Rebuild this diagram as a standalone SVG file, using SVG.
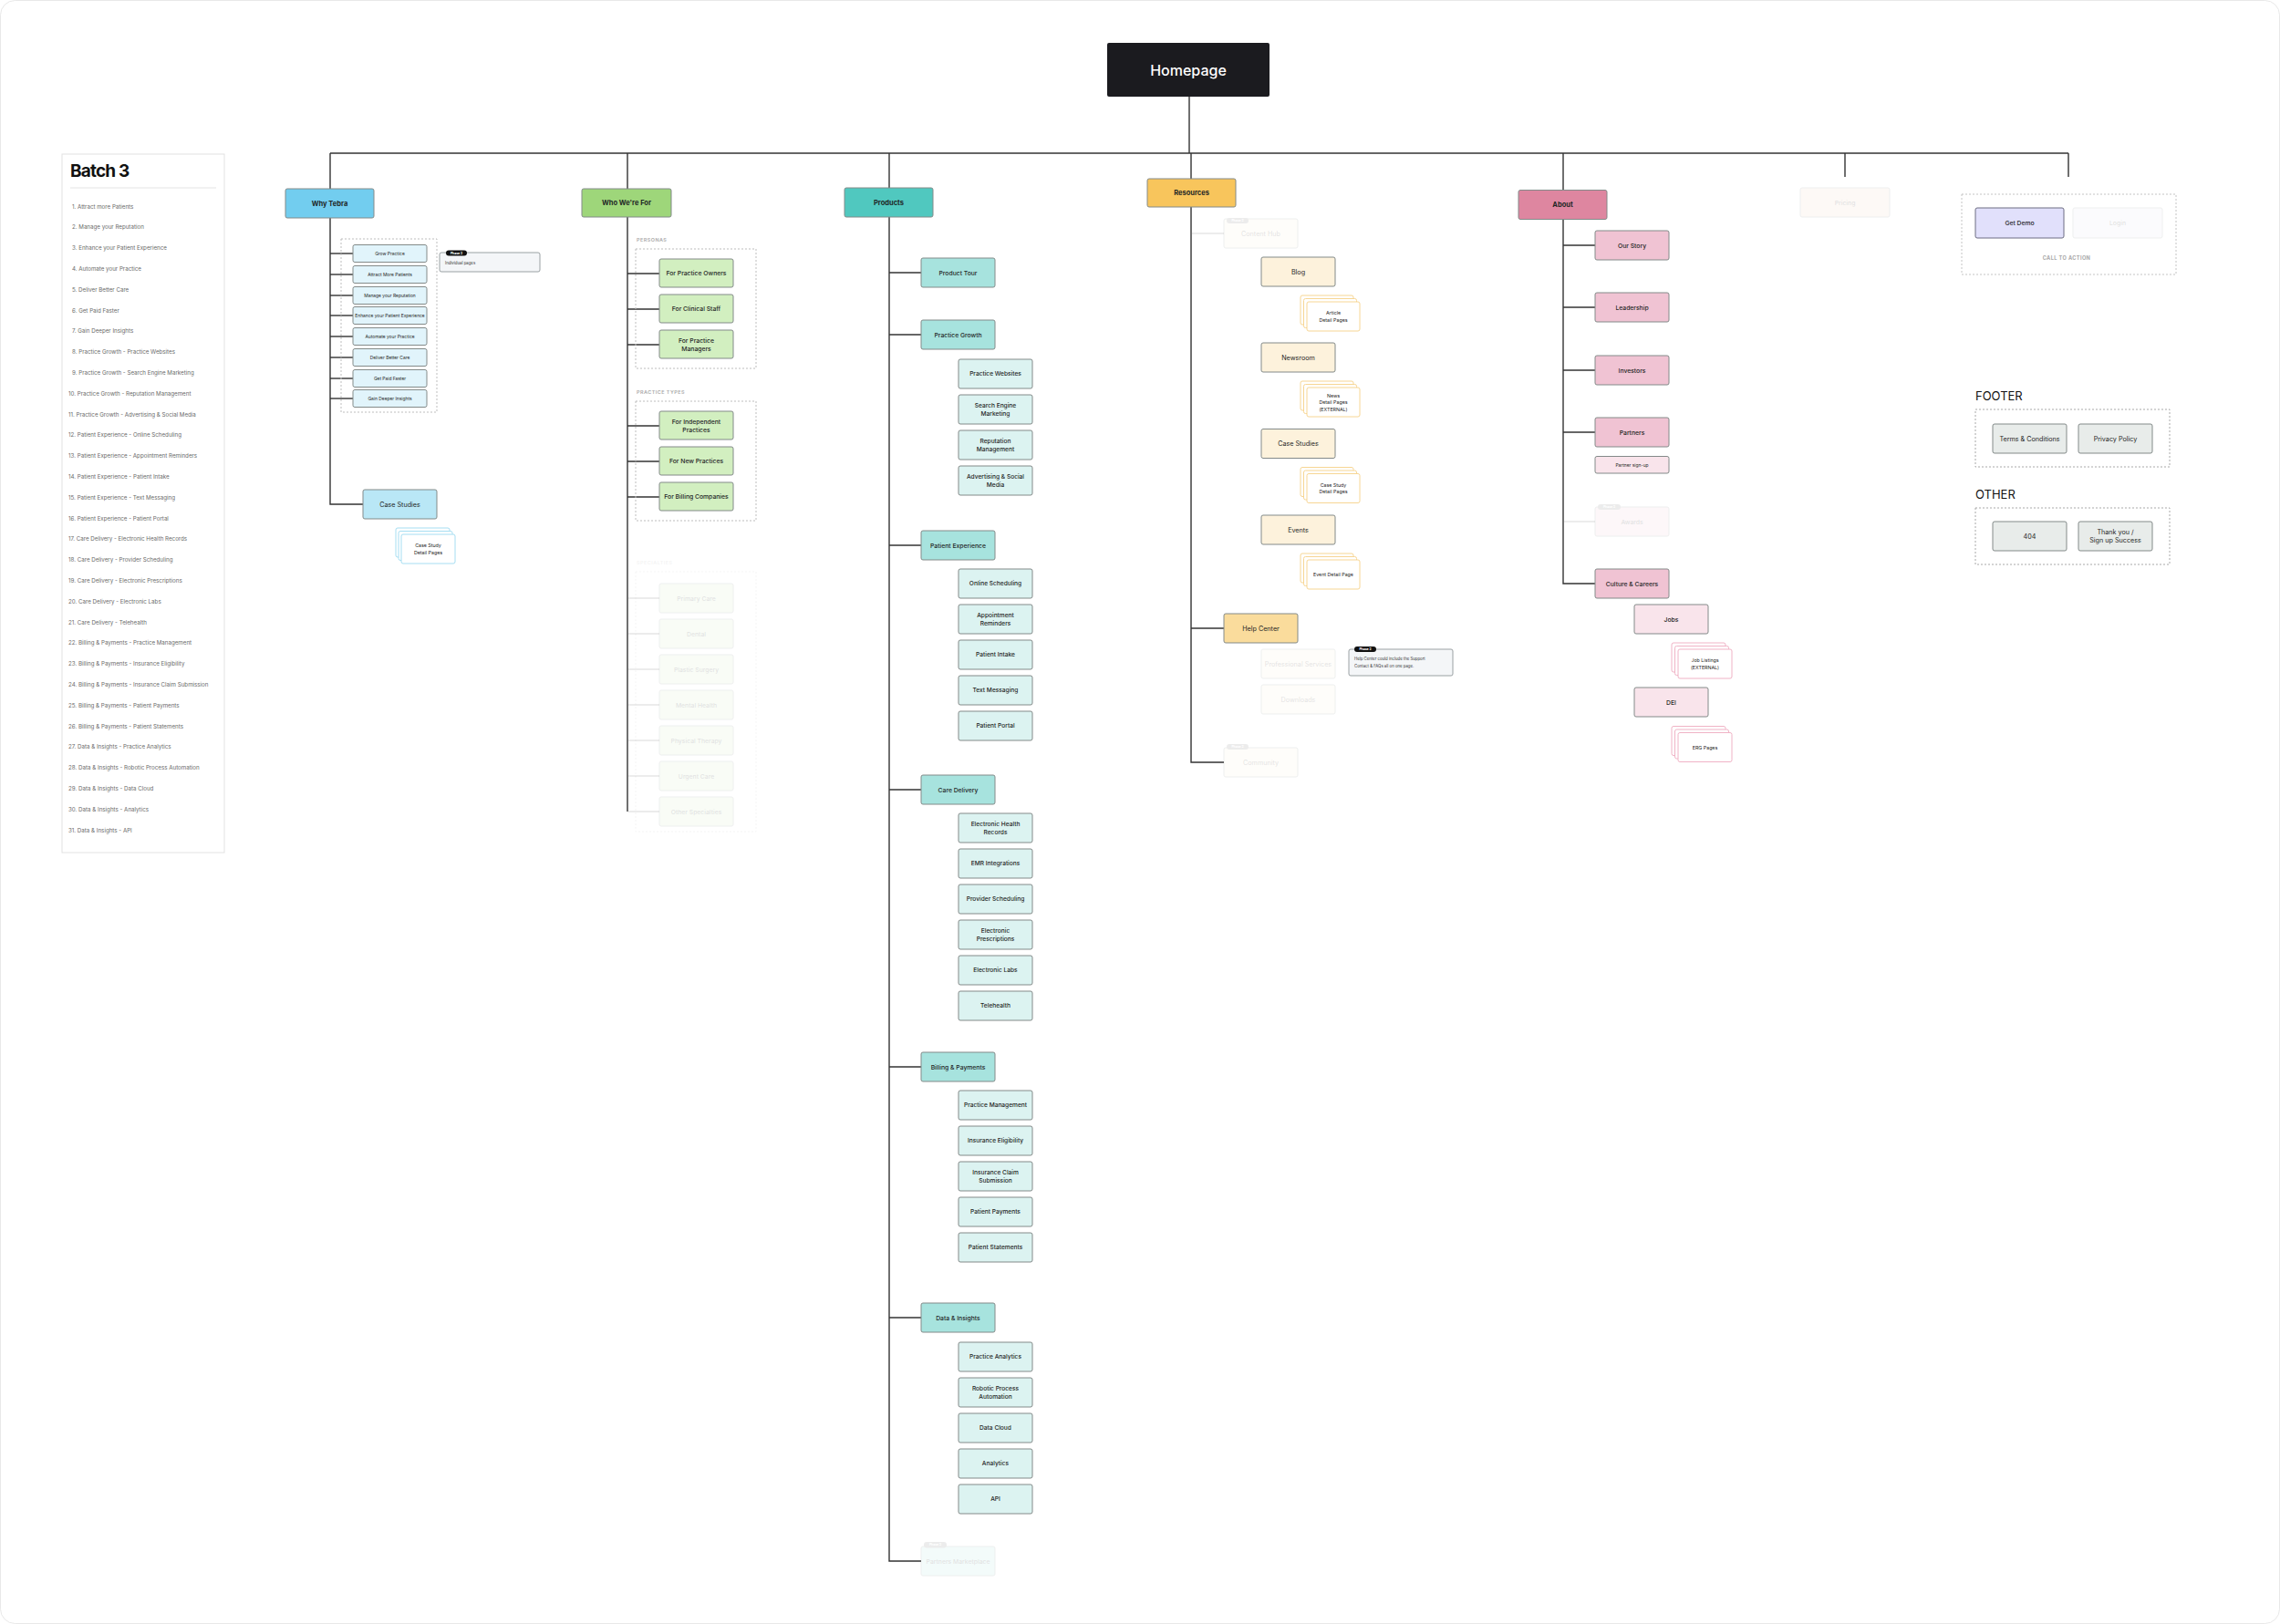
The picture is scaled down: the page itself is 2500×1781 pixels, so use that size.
<svg xmlns="http://www.w3.org/2000/svg" width="2500" height="1781" viewBox="0 0 2500 1781">
<style>
text{font-family:Inter,"Noto Sans","Liberation Sans",sans-serif;fill:#1f2626;text-anchor:middle;dominant-baseline:central}
.n rect{stroke:#838a89;stroke-width:1}
.top text{font-size:7.5px;font-weight:700}
.l2 text{font-size:6.8px;font-weight:500}
.l3 text{font-size:6.6px;font-weight:500}
.res text{font-size:7.2px;font-weight:400}
.wt text{font-size:4.9px;font-weight:400}
.stk rect{fill:#fff;stroke-width:1}
.stk text{font-size:5.3px;font-weight:400}
.fade{opacity:0.13}
.blue{fill:#72cdef}.blue2{fill:#b9e7f6}.blue3{fill:#e1f4fb}
.grn{fill:#9ed67a}.grn2{fill:#d2efc0}
.teal{fill:#50c8bf}.teal2{fill:#a7e3de}.teal3{fill:#dcf3f1}
.yel{fill:#f8c55c}.yel2{fill:#fdf2dc}.yel3{fill:#fadc9c}
.pink{fill:#de86a0}.pink2{fill:#f0c3d3}.pink3{fill:#f9e4eb}
.gry{fill:#e8ecea}
.sb rect{stroke:#a6def2}.so rect{stroke:#f7d694}.sp rect{stroke:#f0b3c6}
.dash{fill:none;stroke:#bdbdbd;stroke-width:1;stroke-dasharray:2 2}
.lbl{font-size:5.4px;font-weight:600;fill:#a9a9a9;text-anchor:start;letter-spacing:0.5px}
.con line,.con path{stroke:#333;stroke-width:1.4;fill:none}
.con .f{stroke:#e6e6e6}
.badge rect{fill:#111;stroke:none}
.badge text{font-size:3.4px;font-weight:700;fill:#fff}
.note rect.b{fill:#f4f6f8;stroke:#9aa1a3;stroke-width:1}
.note text.t{font-size:4.3px;fill:#333;text-anchor:start}
.bl text{font-size:6.2px;fill:#6a6a6a;text-anchor:start}
.sec{font-size:13px;font-weight:400;fill:#111;text-anchor:start}
</style>

<rect x="0.5" y="0.5" width="2499" height="1780" rx="16" fill="#fff" stroke="#e8e8e8"/>

<!-- Batch 3 panel -->
<g id="batch3" class="bl">
<rect x="68" y="169" width="178" height="766" fill="#fff" stroke="#e2e2e2"/>
<text x="77" y="187" style="font-size:19px;font-weight:700;fill:#111;letter-spacing:-0.8px">Batch 3</text>
<line x1="77" y1="206" x2="237" y2="206" stroke="#e4e4e4"/>
<text x="79" y="226">1. Attract more Patients</text>
<text x="79" y="248.8">2. Manage your Reputation</text>
<text x="79" y="271.6">3. Enhance your Patient Experience</text>
<text x="79" y="294.4">4. Automate your Practice</text>
<text x="79" y="317.2">5. Deliver Better Care</text>
<text x="79" y="340">6. Get Paid Faster</text>
<text x="79" y="362.8">7. Gain Deeper Insights</text>
<text x="79" y="385.6">8. Practice Growth - Practice Websites</text>
<text x="79" y="408.4">9. Practice Growth - Search Engine Marketing</text>
<text x="75" y="431.2">10. Practice Growth - Reputation Management</text>
<text x="75" y="454">11. Practice Growth - Advertising &amp; Social Media</text>
<text x="75" y="476.8">12. Patient Experience - Online Scheduling</text>
<text x="75" y="499.6">13. Patient Experience - Appointment Reminders</text>
<text x="75" y="522.4">14. Patient Experience - Patient Intake</text>
<text x="75" y="545.2">15. Patient Experience - Text Messaging</text>
<text x="75" y="568">16. Patient Experience - Patient Portal</text>
<text x="75" y="590.8">17. Care Delivery - Electronic Health Records</text>
<text x="75" y="613.6">18. Care Delivery - Provider Scheduling</text>
<text x="75" y="636.4">19. Care Delivery - Electronic Prescriptions</text>
<text x="75" y="659.2">20. Care Delivery - Electronic Labs</text>
<text x="75" y="682">21. Care Delivery - Telehealth</text>
<text x="75" y="704.8">22. Billing &amp; Payments - Practice Management</text>
<text x="75" y="727.6">23. Billing &amp; Payments - Insurance Eligibility</text>
<text x="75" y="750.4">24. Billing &amp; Payments - Insurance Claim Submission</text>
<text x="75" y="773.2">25. Billing &amp; Payments - Patient Payments</text>
<text x="75" y="796">26. Billing &amp; Payments - Patient Statements</text>
<text x="75" y="818.8">27. Data &amp; Insights - Practice Analytics</text>
<text x="75" y="841.6">28. Data &amp; Insights - Robotic Process Automation</text>
<text x="75" y="864.4">29. Data &amp; Insights - Data Cloud</text>
<text x="75" y="887.2">30. Data &amp; Insights - Analytics</text>
<text x="75" y="910">31. Data &amp; Insights - API</text>
</g>

<!-- Connectors -->
<g id="connectors" class="con">
<line x1="1304" y1="106" x2="1304" y2="168"/>
<line x1="362" y1="168" x2="2268" y2="168"/>
<line x1="362" y1="168" x2="362" y2="207"/>
<line x1="688" y1="168" x2="688" y2="207"/>
<line x1="975" y1="168" x2="975" y2="206"/>
<line x1="1306" y1="168" x2="1306" y2="196"/>
<line x1="1714" y1="168" x2="1714" y2="209"/>
<line x1="2023" y1="168" x2="2023" y2="194"/>
<line x1="2268" y1="168" x2="2268" y2="194"/>
<!-- why tebra -->
<path d="M362 239V553H398"/>
<line x1="362" y1="278" x2="387" y2="278"/>
<line x1="362" y1="301" x2="387" y2="301"/>
<line x1="362" y1="324" x2="387" y2="324"/>
<line x1="362" y1="346" x2="387" y2="346"/>
<line x1="362" y1="369" x2="387" y2="369"/>
<line x1="362" y1="392" x2="387" y2="392"/>
<line x1="362" y1="415" x2="387" y2="415"/>
<line x1="362" y1="437" x2="387" y2="437"/>
<!-- who we're for -->
<line x1="688" y1="238" x2="688" y2="890"/>
<line x1="688" y1="300" x2="723" y2="300"/>
<line x1="688" y1="339" x2="723" y2="339"/>
<line x1="688" y1="378" x2="723" y2="378"/>
<line x1="688" y1="467" x2="723" y2="467"/>
<line x1="688" y1="506" x2="723" y2="506"/>
<line x1="688" y1="545" x2="723" y2="545"/>
<line class="f" x1="689" y1="656" x2="723" y2="656"/>
<line class="f" x1="689" y1="695" x2="723" y2="695"/>
<line class="f" x1="689" y1="734" x2="723" y2="734"/>
<line class="f" x1="689" y1="773" x2="723" y2="773"/>
<line class="f" x1="689" y1="812" x2="723" y2="812"/>
<line class="f" x1="689" y1="851" x2="723" y2="851"/>
<line class="f" x1="689" y1="890" x2="723" y2="890"/>
<!-- products -->
<path d="M975 238V1712H1010"/>
<line x1="975" y1="299" x2="1010" y2="299"/>
<line x1="975" y1="367" x2="1010" y2="367"/>
<line x1="975" y1="598" x2="1010" y2="598"/>
<line x1="975" y1="866" x2="1010" y2="866"/>
<line x1="975" y1="1170" x2="1010" y2="1170"/>
<line x1="975" y1="1445" x2="1010" y2="1445"/>
<!-- resources -->
<path d="M1306 227V836H1342"/>
<line class="f" x1="1307" y1="256" x2="1342" y2="256"/>
<line x1="1306" y1="689" x2="1342" y2="689"/>
<!-- about -->
<path d="M1714 240V640H1749"/>
<line x1="1714" y1="269" x2="1749" y2="269"/>
<line x1="1714" y1="337" x2="1749" y2="337"/>
<line x1="1714" y1="406" x2="1749" y2="406"/>
<line x1="1714" y1="474" x2="1749" y2="474"/>
<line class="f" x1="1715" y1="572" x2="1749" y2="572"/>
</g>

<!-- Homepage -->
<g id="homepage">
<rect x="1214" y="47" width="178" height="59" rx="2" fill="#1b1b1f"/>
<text x="1303" y="77" style="font-size:16px;font-weight:500;fill:#fff">Homepage</text>
</g>

<!-- Why Tebra -->
<g id="why-tebra" class="n top"><rect class="blue" x="313" y="207" width="97" height="32" rx="2"/><text x="361.5" y="223">Why Tebra</text></g>
<rect class="dash" x="374" y="262" width="105" height="190"/>
<g id="wt-grow" class="n wt"><rect class="blue3" x="387" y="268.5" width="81" height="19" rx="2"/><text x="427.5" y="278">Grow Practice</text></g>
<g id="wt-attract" class="n wt"><rect class="blue3" x="387" y="291.5" width="81" height="19" rx="2"/><text x="427.5" y="301">Attract More Patients</text></g>
<g id="wt-manage" class="n wt"><rect class="blue3" x="387" y="314.5" width="81" height="19" rx="2"/><text x="427.5" y="324">Manage your Reputation</text></g>
<g id="wt-enhance" class="n wt"><rect class="blue3" x="387" y="336.5" width="81" height="19" rx="2"/><text x="427.5" y="346">Enhance your Patient Experience</text></g>
<g id="wt-automate" class="n wt"><rect class="blue3" x="387" y="359.5" width="81" height="19" rx="2"/><text x="427.5" y="369">Automate your Practice</text></g>
<g id="wt-deliver" class="n wt"><rect class="blue3" x="387" y="382.5" width="81" height="19" rx="2"/><text x="427.5" y="392">Deliver Better Care</text></g>
<g id="wt-paid" class="n wt"><rect class="blue3" x="387" y="405.5" width="81" height="19" rx="2"/><text x="427.5" y="415">Get Paid Faster</text></g>
<g id="wt-insights" class="n wt"><rect class="blue3" x="387" y="427.5" width="81" height="19" rx="2"/><text x="427.5" y="437">Gain Deeper Insights</text></g>
<g id="note-wt" class="note">
<rect class="b" x="482" y="277" width="110" height="21" rx="2"/>
<g class="badge"><rect x="489" y="274.5" width="23" height="6" rx="3"/><text x="500.5" y="277.5">Phase 2</text></g>
<text class="t" x="488" y="288">Individual pages</text>
</g>
<g id="wt-case-studies" class="n res"><rect class="blue2" x="398" y="537" width="81" height="32" rx="2"/><text x="438.5" y="553">Case Studies</text></g>
<g id="wt-case-detail" class="stk sb">
<rect x="434" y="579" width="59" height="32" rx="2"/><rect x="437" y="582.5" width="59" height="32" rx="2"/><rect x="440" y="586" width="59" height="32" rx="2"/>
<text x="469.5" y="598">Case Study</text><text x="469.5" y="606">Detail Pages</text>
</g>

<!-- Who We're For -->
<g id="who-were-for" class="n top"><rect class="grn" x="638" y="207" width="98" height="31" rx="2"/><text x="687" y="222.5">Who We're For</text></g>
<text class="lbl" x="698" y="263">PERSONAS</text>
<rect class="dash" x="697" y="273" width="132" height="131"/>
<g id="wf-owners" class="n l2"><rect class="grn2" x="723" y="284" width="81" height="31" rx="2"/><text x="763.5" y="299.5">For Practice Owners</text></g>
<g id="wf-clinical" class="n l2"><rect class="grn2" x="723" y="323" width="81" height="31" rx="2"/><text x="763.5" y="338.5">For Clinical Staff</text></g>
<g id="wf-managers" class="n l2"><rect class="grn2" x="723" y="362" width="81" height="31" rx="2"/><text x="763.5" y="373">For Practice</text><text x="763.5" y="382">Managers</text></g>
<text class="lbl" x="698" y="430">PRACTICE TYPES</text>
<rect class="dash" x="697" y="440" width="132" height="131"/>
<g id="wf-independent" class="n l2"><rect class="grn2" x="723" y="451" width="81" height="31" rx="2"/><text x="763.5" y="462">For Independent</text><text x="763.5" y="471">Practices</text></g>
<g id="wf-new" class="n l2"><rect class="grn2" x="723" y="490" width="81" height="31" rx="2"/><text x="763.5" y="505.5">For New Practices</text></g>
<g id="wf-billing" class="n l2"><rect class="grn2" x="723" y="529" width="81" height="31" rx="2"/><text x="763.5" y="544.5">For Billing Companies</text></g>
<g class="fade">
<text class="lbl" x="698" y="617">SPECIALTIES</text>
<rect class="dash" x="697" y="627" width="132" height="285"/>
<g id="wf-primary" class="n l2"><rect class="grn2" x="723" y="640" width="81" height="32" rx="2"/><text x="763.5" y="656">Primary Care</text></g>
<g id="wf-dental" class="n l2"><rect class="grn2" x="723" y="679" width="81" height="32" rx="2"/><text x="763.5" y="695">Dental</text></g>
<g id="wf-plastic" class="n l2"><rect class="grn2" x="723" y="718" width="81" height="32" rx="2"/><text x="763.5" y="734">Plastic Surgery</text></g>
<g id="wf-mental" class="n l2"><rect class="grn2" x="723" y="757" width="81" height="32" rx="2"/><text x="763.5" y="773">Mental Health</text></g>
<g id="wf-physical" class="n l2"><rect class="grn2" x="723" y="796" width="81" height="32" rx="2"/><text x="763.5" y="812">Physical Therapy</text></g>
<g id="wf-urgent" class="n l2"><rect class="grn2" x="723" y="835" width="81" height="32" rx="2"/><text x="763.5" y="851">Urgent Care</text></g>
<g id="wf-other" class="n l2"><rect class="grn2" x="723" y="874" width="81" height="32" rx="2"/><text x="763.5" y="890">Other Specialties</text></g>
</g>

<!-- Products -->
<g id="products" class="n top"><rect class="teal" x="926" y="206" width="97" height="32" rx="2"/><text x="974.5" y="222">Products</text></g>
<g id="p-tour" class="n l2"><rect class="teal2" x="1010" y="283" width="81" height="32" rx="2"/><text x="1050.5" y="299">Product Tour</text></g>
<g id="p-growth" class="n l2"><rect class="teal2" x="1010" y="351" width="81" height="32" rx="2"/><text x="1050.5" y="367">Practice Growth</text></g>
<g id="p-websites" class="n l3"><rect class="teal3" x="1051" y="394" width="81" height="32" rx="2"/><text x="1091.5" y="410">Practice Websites</text></g>
<g id="p-sem" class="n l3"><rect class="teal3" x="1051" y="433" width="81" height="32" rx="2"/><text x="1091.5" y="444.5">Search Engine</text><text x="1091.5" y="453.5">Marketing</text></g>
<g id="p-reputation" class="n l3"><rect class="teal3" x="1051" y="472" width="81" height="32" rx="2"/><text x="1091.5" y="483.5">Reputation</text><text x="1091.5" y="492.5">Management</text></g>
<g id="p-advertising" class="n l3"><rect class="teal3" x="1051" y="511" width="81" height="32" rx="2"/><text x="1091.5" y="522.5">Advertising &amp; Social</text><text x="1091.5" y="531.5">Media</text></g>
<g id="p-experience" class="n l2"><rect class="teal2" x="1010" y="582" width="81" height="32" rx="2"/><text x="1050.5" y="598">Patient Experience</text></g>
<g id="p-online" class="n l3"><rect class="teal3" x="1051" y="624" width="81" height="32" rx="2"/><text x="1091.5" y="640">Online Scheduling</text></g>
<g id="p-reminders" class="n l3"><rect class="teal3" x="1051" y="663" width="81" height="32" rx="2"/><text x="1091.5" y="674.5">Appointment</text><text x="1091.5" y="683.5">Reminders</text></g>
<g id="p-intake" class="n l3"><rect class="teal3" x="1051" y="702" width="81" height="32" rx="2"/><text x="1091.5" y="718">Patient Intake</text></g>
<g id="p-text" class="n l3"><rect class="teal3" x="1051" y="741" width="81" height="32" rx="2"/><text x="1091.5" y="757">Text Messaging</text></g>
<g id="p-portal" class="n l3"><rect class="teal3" x="1051" y="780" width="81" height="32" rx="2"/><text x="1091.5" y="796">Patient Portal</text></g>
<g id="p-care" class="n l2"><rect class="teal2" x="1010" y="850" width="81" height="32" rx="2"/><text x="1050.5" y="866">Care Delivery</text></g>
<g id="p-ehr" class="n l3"><rect class="teal3" x="1051" y="892" width="81" height="32" rx="2"/><text x="1091.5" y="903.5">Electronic Health</text><text x="1091.5" y="912.5">Records</text></g>
<g id="p-emr" class="n l3"><rect class="teal3" x="1051" y="931" width="81" height="32" rx="2"/><text x="1091.5" y="947">EMR Integrations</text></g>
<g id="p-provider" class="n l3"><rect class="teal3" x="1051" y="970" width="81" height="32" rx="2"/><text x="1091.5" y="986">Provider Scheduling</text></g>
<g id="p-prescriptions" class="n l3"><rect class="teal3" x="1051" y="1009" width="81" height="32" rx="2"/><text x="1091.5" y="1020.5">Electronic</text><text x="1091.5" y="1029.5">Prescriptions</text></g>
<g id="p-labs" class="n l3"><rect class="teal3" x="1051" y="1048" width="81" height="32" rx="2"/><text x="1091.5" y="1064">Electronic Labs</text></g>
<g id="p-telehealth" class="n l3"><rect class="teal3" x="1051" y="1087" width="81" height="32" rx="2"/><text x="1091.5" y="1103">Telehealth</text></g>
<g id="p-billing" class="n l2"><rect class="teal2" x="1010" y="1154" width="81" height="32" rx="2"/><text x="1050.5" y="1170">Billing &amp; Payments</text></g>
<g id="p-pm" class="n l3"><rect class="teal3" x="1051" y="1196" width="81" height="32" rx="2"/><text x="1091.5" y="1212">Practice Management</text></g>
<g id="p-eligibility" class="n l3"><rect class="teal3" x="1051" y="1235" width="81" height="32" rx="2"/><text x="1091.5" y="1251">Insurance Eligibility</text></g>
<g id="p-claim" class="n l3"><rect class="teal3" x="1051" y="1274" width="81" height="32" rx="2"/><text x="1091.5" y="1285.5">Insurance Claim</text><text x="1091.5" y="1294.5">Submission</text></g>
<g id="p-payments" class="n l3"><rect class="teal3" x="1051" y="1313" width="81" height="32" rx="2"/><text x="1091.5" y="1329">Patient Payments</text></g>
<g id="p-statements" class="n l3"><rect class="teal3" x="1051" y="1352" width="81" height="32" rx="2"/><text x="1091.5" y="1368">Patient Statements</text></g>
<g id="p-data" class="n l2"><rect class="teal2" x="1010" y="1429" width="81" height="32" rx="2"/><text x="1050.5" y="1445">Data &amp; Insights</text></g>
<g id="p-analytics-practice" class="n l3"><rect class="teal3" x="1051" y="1472" width="81" height="32" rx="2"/><text x="1091.5" y="1488">Practice Analytics</text></g>
<g id="p-rpa" class="n l3"><rect class="teal3" x="1051" y="1511" width="81" height="32" rx="2"/><text x="1091.5" y="1522.5">Robotic Process</text><text x="1091.5" y="1531.5">Automation</text></g>
<g id="p-cloud" class="n l3"><rect class="teal3" x="1051" y="1550" width="81" height="32" rx="2"/><text x="1091.5" y="1566">Data Cloud</text></g>
<g id="p-analytics" class="n l3"><rect class="teal3" x="1051" y="1589" width="81" height="32" rx="2"/><text x="1091.5" y="1605">Analytics</text></g>
<g id="p-api" class="n l3"><rect class="teal3" x="1051" y="1628" width="81" height="32" rx="2"/><text x="1091.5" y="1644">API</text></g>
<g id="p-marketplace" class="n l2 fade"><rect class="teal2" x="1010" y="1696" width="81" height="32" rx="2"/><text x="1050.5" y="1712">Partners Marketplace</text>
<g class="badge"><rect x="1013" y="1691" width="25" height="6.5" rx="3" style="fill:#777"/><text x="1025.5" y="1694.3">Phase 2</text></g></g>

<!-- Resources -->
<g id="resources" class="n top"><rect class="yel" x="1258" y="196" width="97" height="31" rx="2"/><text x="1306.5" y="211.5">Resources</text></g>
<g id="r-content-hub" class="n res fade"><rect class="yel2" x="1342" y="240" width="81" height="32" rx="2"/><text x="1382.5" y="256">Content Hub</text>
<g class="badge"><rect x="1345" y="239" width="24" height="6" rx="3" style="fill:#777"/><text x="1357" y="242">Phase 2</text></g></g>
<g id="r-blog" class="n res"><rect class="yel2" x="1383" y="282" width="81" height="32" rx="2"/><text x="1423.5" y="298">Blog</text></g>
<g id="r-article" class="stk so">
<rect x="1426" y="324" width="58" height="32" rx="2"/><rect x="1429.5" y="327.5" width="58" height="32" rx="2"/><rect x="1433" y="331" width="58" height="32" rx="2"/>
<text x="1462" y="343">Article</text><text x="1462" y="350.5">Detail Pages</text></g>
<g id="r-newsroom" class="n res"><rect class="yel2" x="1383" y="376" width="81" height="32" rx="2"/><text x="1423.5" y="392">Newsroom</text></g>
<g id="r-news" class="stk so">
<rect x="1426" y="418" width="58" height="32" rx="2"/><rect x="1429.5" y="421.5" width="58" height="32" rx="2"/><rect x="1433" y="425" width="58" height="32" rx="2"/>
<text x="1462" y="433.5">News</text><text x="1462" y="441">Detail Pages</text><text x="1462" y="448.5">(EXTERNAL)</text></g>
<g id="r-case-studies" class="n res"><rect class="yel2" x="1383" y="470.5" width="81" height="32" rx="2"/><text x="1423.5" y="486.5">Case Studies</text></g>
<g id="r-case-detail" class="stk so">
<rect x="1426" y="512.5" width="58" height="32" rx="2"/><rect x="1429.5" y="516" width="58" height="32" rx="2"/><rect x="1433" y="519.5" width="58" height="32" rx="2"/>
<text x="1462" y="531.5">Case Study</text><text x="1462" y="539">Detail Pages</text></g>
<g id="r-events" class="n res"><rect class="yel2" x="1383" y="565" width="81" height="32" rx="2"/><text x="1423.5" y="581">Events</text></g>
<g id="r-event-detail" class="stk so">
<rect x="1426" y="607" width="58" height="32" rx="2"/><rect x="1429.5" y="610.5" width="58" height="32" rx="2"/><rect x="1433" y="614" width="58" height="32" rx="2"/>
<text x="1462" y="630">Event Detail Page</text></g>
<g id="r-help" class="n res"><rect class="yel3" x="1342" y="673" width="81" height="32" rx="2"/><text x="1382.5" y="689">Help Center</text></g>
<g id="r-pro" class="n res fade"><rect class="yel2" x="1383" y="712" width="81" height="32" rx="2"/><text x="1423.5" y="728">Professional Services</text></g>
<g id="r-downloads" class="n res fade"><rect class="yel2" x="1383" y="751" width="81" height="32" rx="2"/><text x="1423.5" y="767">Downloads</text></g>
<g id="note-help" class="note">
<rect class="b" x="1479" y="712" width="114" height="29" rx="2"/>
<g class="badge"><rect x="1485" y="709" width="24" height="6" rx="3"/><text x="1497" y="712">Phase 2</text></g>
<text class="t" x="1485" y="722.5">Help Center could include the Support</text>
<text class="t" x="1485" y="730.5">Contact &amp; FAQs all on one page.</text>
</g>
<g id="r-community" class="n res fade"><rect class="yel2" x="1342" y="820" width="81" height="32" rx="2"/><text x="1382.5" y="836">Community</text>
<g class="badge"><rect x="1345" y="816" width="24" height="6" rx="3" style="fill:#777"/><text x="1357" y="819">Phase 2</text></g></g>

<!-- About -->
<g id="about" class="n top"><rect class="pink" x="1665" y="208.5" width="97" height="32" rx="2"/><text x="1713.5" y="224.5">About</text></g>
<g id="a-story" class="n l2"><rect class="pink2" x="1749" y="253" width="81" height="32" rx="2"/><text x="1789.5" y="269">Our Story</text></g>
<g id="a-leadership" class="n l2"><rect class="pink2" x="1749" y="321" width="81" height="32" rx="2"/><text x="1789.5" y="337">Leadership</text></g>
<g id="a-investors" class="n l2"><rect class="pink2" x="1749" y="390" width="81" height="32" rx="2"/><text x="1789.5" y="406">Investors</text></g>
<g id="a-partners" class="n l2"><rect class="pink2" x="1749" y="458" width="81" height="32" rx="2"/><text x="1789.5" y="474">Partners</text></g>
<g id="a-partner-signup" class="n wt"><rect class="pink3" x="1749" y="500.5" width="81" height="18.5" rx="2"/><text x="1789.5" y="509.8">Partner sign-up</text></g>
<g id="a-awards" class="n l2 fade"><rect class="pink2" x="1749" y="556" width="81" height="32" rx="2"/><text x="1789.5" y="572">Awards</text>
<g class="badge"><rect x="1752" y="553" width="25" height="6" rx="3" style="fill:#777"/><text x="1764.5" y="556">Phase 2</text></g></g>
<g id="a-culture" class="n l2"><rect class="pink2" x="1749" y="624" width="81" height="32" rx="2"/><text x="1789.5" y="640">Culture &amp; Careers</text></g>
<g id="a-jobs" class="n l2"><rect class="pink3" x="1792" y="663" width="81" height="32" rx="2"/><text x="1832.5" y="679">Jobs</text></g>
<g id="a-job-listings" class="stk sp">
<rect x="1833" y="705" width="59" height="32" rx="2"/><rect x="1836.5" y="708.5" width="59" height="32" rx="2"/><rect x="1840" y="712" width="59" height="32" rx="2"/>
<text x="1869.5" y="724">Job Listings</text><text x="1869.5" y="731.5">(EXTERNAL)</text></g>
<g id="a-dei" class="n l2"><rect class="pink3" x="1792" y="754" width="81" height="32" rx="2"/><text x="1832.5" y="770">DEI</text></g>
<g id="a-erg" class="stk sp">
<rect x="1833" y="796.5" width="59" height="32" rx="2"/><rect x="1836.5" y="800" width="59" height="32" rx="2"/><rect x="1840" y="803.5" width="59" height="32" rx="2"/>
<text x="1869.5" y="819.5">ERG Pages</text></g>

<!-- Pricing (faded) -->
<g id="pricing" class="n l2 fade"><rect style="fill:#f3d3c0" x="1974" y="206" width="98" height="32" rx="2"/><text x="2023" y="222">Pricing</text></g>

<!-- Call to action -->
<rect class="dash" x="2151" y="213" width="235" height="88" style="stroke:#c4c4c4"/>
<g id="get-demo" class="n l2"><rect style="fill:#e1e0fb;stroke:#6d6d82" x="2166" y="228" width="97" height="33" rx="2"/><text x="2214.5" y="244.5">Get Demo</text></g>
<g id="login" class="n l2 fade"><rect style="fill:#e6e6f0" x="2273" y="228" width="98" height="33" rx="2"/><text x="2322" y="244.5">Login</text></g>
<text x="2266" y="283" style="font-size:5.6px;font-weight:700;fill:#a8a8a8;letter-spacing:0.4px">CALL TO ACTION</text>

<!-- Footer -->
<text class="sec" x="2166" y="434">FOOTER</text>
<rect class="dash" x="2166" y="449" width="213" height="63" style="stroke:#a8a8a8"/>
<g id="f-terms" class="n res"><rect class="gry" x="2185" y="465" width="81" height="32" rx="2"/><text x="2225.5" y="481">Terms &amp; Conditions</text></g>
<g id="f-privacy" class="n res"><rect class="gry" x="2279" y="465" width="81" height="32" rx="2"/><text x="2319.5" y="481">Privacy Policy</text></g>

<!-- Other -->
<text class="sec" x="2166" y="542">OTHER</text>
<rect class="dash" x="2166" y="557" width="213" height="62" style="stroke:#a8a8a8"/>
<g id="o-404" class="n res"><rect class="gry" x="2185" y="572" width="81" height="32" rx="2"/><text x="2225.5" y="588">404</text></g>
<g id="o-thanks" class="n res"><rect class="gry" x="2279" y="572" width="81" height="32" rx="2"/><text x="2319.5" y="583.5">Thank you /</text><text x="2319.5" y="592.5">Sign up Success</text></g>
</svg>
